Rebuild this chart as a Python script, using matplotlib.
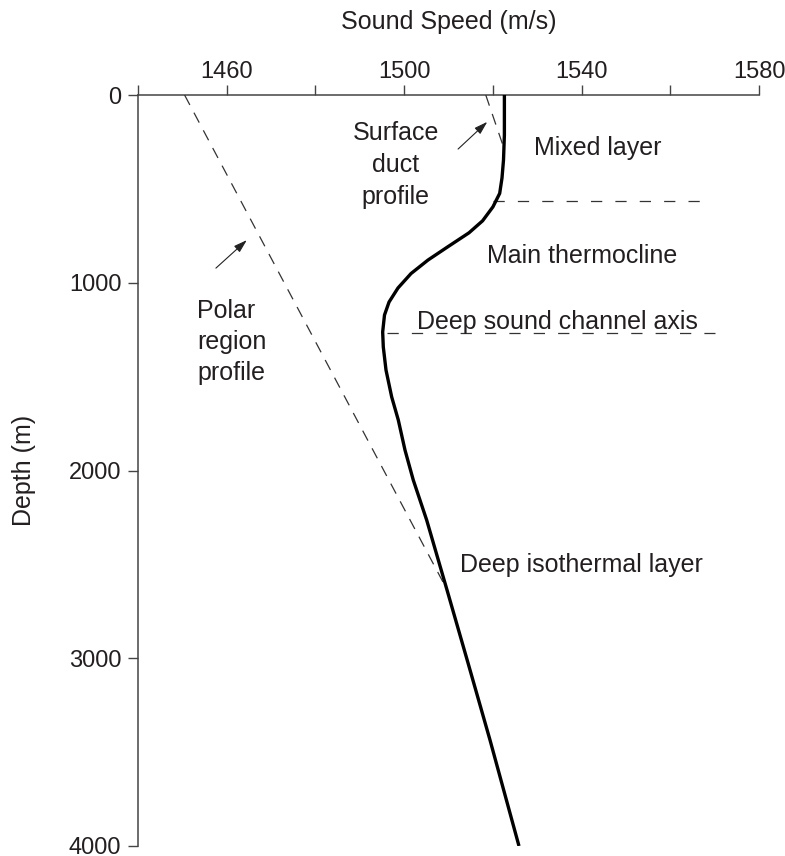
import matplotlib
matplotlib.use("Agg")
import matplotlib.pyplot as plt

plt.rcParams['font.family'] = ['Liberation Sans', 'DejaVu Sans']

# Main sound speed profile (m/s) vs depth (m)
profile_speed = [1522.6, 1522.6, 1522.4, 1522.06, 1521.54, 1520.01, 1517.69, 1514.62,
                 1510.0, 1505.38, 1501.55, 1498.61, 1496.59, 1495.57, 1495.16, 1495.3,
                 1495.91, 1497.19, 1498.68, 1500.19, 1502.06, 1505.08, 1509.66, 1514.4,
                 1519.35, 1525.89]
profile_depth = [0, 213, 346, 442, 524, 596, 670, 734,
                 806, 879, 951, 1028, 1103, 1172, 1262, 1342,
                 1465, 1608, 1731, 1891, 2051, 2264, 2636, 3025,
                 3435, 4000]

# Polar region profile (dashed)
polar_speed = [1450.5, 1509.7]
polar_depth = [0, 2636]

# Surface duct profile (dashed)
duct_speed = [1518.4, 1522.3]
duct_depth = [0, 270]

# Layer boundary lines
mixed_line_speed = [1520.0, 1568.5]
mixed_line_depth = 565
channel_line_speed = [1496.1, 1570.1]
channel_line_depth = 1268

major_ticks = [1460, 1500, 1540, 1580]
minor_ticks = [1440, 1480, 1520, 1560]
depth_ticks = [0, 1000, 2000, 3000, 4000]

TXT = '#231f20'
FS = 17
AFS = 18

fig = plt.figure(figsize=(7.85, 8.56), dpi=100)
ax = fig.add_axes([138/785, 1 - 846/856, (759-138)/785, (846-95)/856])
ax.set_xlim(1440, 1580)
ax.set_ylim(4000, 0)

ax.plot(profile_speed, profile_depth, color='black', lw=2.4, solid_joinstyle='round',
        solid_capstyle='butt', zorder=4)
ax.plot(polar_speed, polar_depth, color='#333333', lw=0.9, dashes=(9, 7), zorder=3)
ax.plot(duct_speed, duct_depth, color='#333333', lw=0.9, dashes=(9, 7), zorder=3)
ax.plot(mixed_line_speed, [mixed_line_depth]*2, color='#333333', lw=0.9, dashes=(9, 10.5), zorder=3)
ax.plot(channel_line_speed, [channel_line_depth]*2, color='#333333', lw=0.9, dashes=(9, 10.5), zorder=3)

# arrows
ax.annotate('', xy=(1519.2, 133), xytext=(1511.7, 298),
            arrowprops=dict(arrowstyle='-|>,head_length=0.8,head_width=0.25', color='#222222', lw=0.8))
ax.annotate('', xy=(1465.0, 763), xytext=(1457.1, 932),
            arrowprops=dict(arrowstyle='-|>,head_length=0.8,head_width=0.25', color='#222222', lw=0.8))

# annotations
ax.text(1498.1, 373, 'Surface\nduct\nprofile', ha='center', va='center', fontsize=AFS,
        color=TXT, linespacing=1.42)
ax.text(1543.6, 282, 'Mixed layer', ha='center', va='center', fontsize=AFS, color=TXT)
ax.text(1540.2, 858, 'Main thermocline', ha='center', va='center', fontsize=AFS, color=TXT)
ax.text(1534.5, 1209, 'Deep sound channel axis', ha='center', va='center', fontsize=AFS, color=TXT)
ax.text(1453.4, 1315, 'Polar\nregion\nprofile', ha='left', va='center', fontsize=AFS,
        color=TXT, linespacing=1.38)
ax.text(1539.9, 2503, 'Deep isothermal layer', ha='center', va='center', fontsize=AFS, color=TXT)

# axes styling
for s in ['right', 'bottom']:
    ax.spines[s].set_visible(False)
for s in ['top', 'left']:
    ax.spines[s].set_color('#444444')
    ax.spines[s].set_linewidth(1.1)

ax.xaxis.tick_top()
ax.xaxis.set_label_position('top')
ax.set_xticks(major_ticks)
ax.set_xticks(minor_ticks, minor=True)
ax.set_yticks(depth_ticks)
ax.tick_params(axis='x', which='both', direction='out', length=7, width=1.0,
               color='#444444', labelsize=FS, labelcolor=TXT, pad=1.5)
ax.tick_params(axis='y', which='both', direction='out', length=7, width=1.0,
               color='#444444', labelsize=FS, labelcolor=TXT, pad=5)
ax.set_xlabel('Sound Speed (m/s)', fontsize=AFS, color=TXT, labelpad=23)
ax.set_ylabel('Depth (m)', fontsize=AFS, color=TXT, labelpad=23.5)

fig.savefig('out.png', dpi=100)
